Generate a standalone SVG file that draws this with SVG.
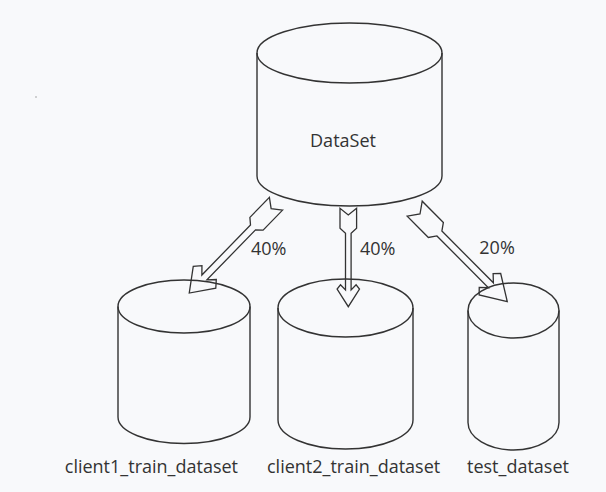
<svg xmlns="http://www.w3.org/2000/svg" width="606" height="492" viewBox="0 0 606 492">
  <style>
    .cyl { fill: none; stroke: #333; stroke-width: 1.4; }
    .arr { fill: none; stroke: #333; stroke-width: 1.3; stroke-linejoin: miter; }
    .lbl { font-family: "Open Sans", "Noto Sans", sans-serif; font-size: 18px; fill: #333; }
  </style>
  <rect width="606" height="492" fill="#f8f9fb"/>
  <circle cx="36" cy="97" r="0.7" fill="#888"/>

  <g id="dataset">
    <ellipse class="cyl" cx="349.5" cy="53" rx="92.5" ry="30"/>
    <path class="cyl" d="M257,53 L257,176 A92.5,30 0 0 0 442,176 L442,53"/>
    <text class="lbl" x="343" y="147" text-anchor="middle">DataSet</text>
  </g>

  <g id="client1_train_dataset">
    <ellipse class="cyl" cx="184" cy="306.5" rx="66" ry="26.5"/>
    <path class="cyl" d="M118,306.5 L118,417 A66,26.5 0 0 0 250,417 L250,306.5"/>
    <text class="lbl" x="238" y="473" text-anchor="end">client1_train_dataset</text>
  </g>

  <g id="client2_train_dataset">
    <ellipse class="cyl" cx="345.5" cy="308" rx="67.5" ry="29"/>
    <path class="cyl" d="M278,308 L278,420 A67.5,29 0 0 0 413,420 L413,308"/>
    <text class="lbl" x="267" y="473">client2_train_dataset</text>
  </g>

  <g id="test_dataset">
    <ellipse class="cyl" cx="513.5" cy="310.5" rx="45.5" ry="27.5"/>
    <path class="cyl" d="M468,310.5 L468,422.5 A45.5,27.5 0 0 0 559,422.5 L559,310.5"/>
    <text class="lbl" x="467" y="473">test_dataset</text>
  </g>

  <g id="connectors">
    <path class="arr" transform="translate(276,203.7) rotate(134.16)" d="M0,-9.2 L7,0 L0,9.2 L28,9.2 L33,3.5 L102.8,3.5 L96,10 L102.6,15.7 L124.5,0 L102.6,-15.7 L96,-10 L102.8,-3.5 L33,-3.5 L28,-9.2 Z"/>
    <path class="arr" transform="translate(348.3,208.3) rotate(90)" d="M0,-8.3 L6.7,0 L0,8.3 L20,8.3 L25,2.8 L81.7,2.8 L76.5,7.8 L80.8,11.2 L98.4,0 L80.8,-11.2 L76.5,-7.8 L81.7,-2.8 L25,-2.8 L20,-8.3 Z"/>
    <path class="arr" transform="translate(414.7,208.7) rotate(45.12)" d="M0,-10.6 L7.5,0 L0,10.6 L30,10.6 L35,3.5 L108,3.5 L101.3,9.8 L106.6,15.2 L131.2,0 L106.6,-15.2 L101.3,-9.8 L108,-3.5 L35,-3.5 L30,-10.6 Z"/>
    <text class="lbl" x="251" y="255">40%</text>
    <text class="lbl" x="360" y="255">40%</text>
    <text class="lbl" x="479.3" y="253.5">20%</text>
  </g>
</svg>
